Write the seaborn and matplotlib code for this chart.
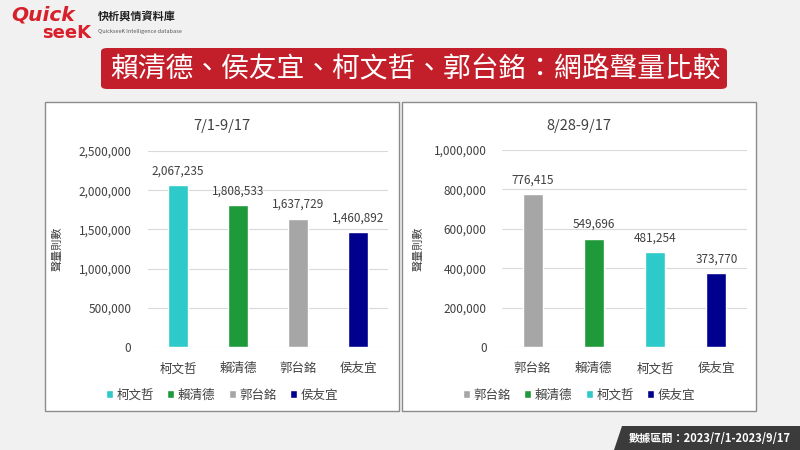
import matplotlib
matplotlib.use("Agg")
import matplotlib.pyplot as plt
from matplotlib.patches import FancyBboxPatch, Rectangle, Polygon
import seaborn as sns
import pandas as pd

# ---- data ----
left_title = "7/1-9/17"
left_cats = ["柯文哲", "賴清德", "郭台銘", "侯友宜"]
left_vals = [2067235, 1808533, 1637729, 1460892]
left_ticks = [0, 500000, 1000000, 1500000, 2000000, 2500000]

right_title = "8/28-9/17"
right_cats = ["郭台銘", "賴清德", "柯文哲", "侯友宜"]
right_vals = [776415, 549696, 481254, 373770]
right_ticks = [0, 200000, 400000, 600000, 800000, 1000000]

colors = {"柯文哲": "#2ec9c9", "賴清德": "#1f9a3a", "郭台銘": "#a6a6a6", "侯友宜": "#00008f"}

main_title = "賴清德、侯友宜、柯文哲、郭台銘：網路聲量比較"
ylabel = "聲量則數"
footer = "數據區間：2023/7/1-2023/9/17"

sns.set_theme(style="white")
plt.rcParams["font.family"] = ["Noto Sans CJK TC", "DejaVu Sans"]

W, H = 800, 450
fig = plt.figure(figsize=(8, 4.5), dpi=100)
fig.patch.set_facecolor("#f1f1f1")

def fx(px):
    return px / W

def fy(py):
    return 1 - py / H

# panels
for x0, x1 in [(45, 399), (402, 756)]:
    fig.patches.append(Rectangle((fx(x0), fy(411)), fx(x1 - x0), (411 - 102) / H,
                                 transform=fig.transFigure, facecolor="white",
                                 edgecolor="#8c8c8c", linewidth=1.0, zorder=0))

# title banner
fig.patches.append(FancyBboxPatch((fx(101), fy(89)), fx(727 - 101), (89 - 48) / H,
                                  boxstyle="round,pad=0,rounding_size=0.008",
                                  transform=fig.transFigure, facecolor="#c21f2b",
                                  edgecolor="none", zorder=1))
fig.text(fx(415), fy(69), main_title, color="white", fontsize=20,
         ha="center", va="center", zorder=2)

# logo
fig.text(fx(11), fy(15), "Quick", color="#d7202b", fontsize=14.5, fontweight="bold",
         style="italic", family="DejaVu Sans", ha="left", va="center")
fig.text(fx(42), fy(33), "seeK", color="#d7202b", fontsize=13, fontweight="bold",
         family="DejaVu Sans", ha="left", va="center")
fig.text(fx(98), fy(17), "快析輿情資料庫", color="#222222", fontsize=8,
         fontweight="bold", ha="left", va="center")
fig.text(fx(98), fy(31), "QuickseeK Intelligence database", color="#555555",
         fontsize=4, ha="left", va="center")

# footer
fig.patches.append(Polygon([(fx(614), 0), (fx(622), fy(426)), (1, fy(426)), (1, 0)],
                           closed=True, transform=fig.transFigure,
                           facecolor="#3b3b3b", edgecolor="none"))
fig.text(fx(710), fy(438), footer, color="white", fontsize=8, fontweight="bold",
         ha="center", va="center")


def draw(ax_rect, cats, vals, ticks, title, center_x, label_x, pad):
    ax = fig.add_axes(ax_rect)
    ax.set_zorder(5)
    df = pd.DataFrame({"cat": cats, "val": vals})
    sns.barplot(data=df, x="cat", y="val", hue="cat", palette=colors, width=0.33,
                dodge=False, legend=True, ax=ax, saturation=1)
    ax.set_facecolor("white")
    ax.set_ylim(0, ticks[-1])
    ax.set_xlim(-0.5, 3.5)
    ax.set_yticks(ticks)
    ax.set_yticklabels([f"{t:,}" for t in ticks], fontsize=8.5, color="#404040")
    ax.tick_params(axis="y", pad=pad, length=0)
    ax.tick_params(axis="x", pad=11, length=0, labelsize=9, labelcolor="#404040")
    ax.grid(axis="y", color="#d9d9d9", linewidth=0.8)
    ax.set_axisbelow(True)
    for s in ax.spines.values():
        s.set_visible(False)
    ax.set_xlabel("")
    ax.set_ylabel(ylabel, fontsize=8, color="#404040")
    ax.yaxis.set_label_coords(label_x, 0.5)
    for cont in ax.containers:
        ax.bar_label(cont, labels=[f"{v:,.0f}" for v in cont.datavalues],
                     padding=5.5, fontsize=8.5, color="#404040")
    sns.move_legend(ax, "center", bbox_to_anchor=(center_x, fy(395)),
                    bbox_transform=fig.transFigure,
                    ncol=4, frameon=False, title=None, fontsize=9,
                    handlelength=0.56, handleheight=0.56, handletextpad=0.3,
                    columnspacing=1.05)
    for t in ax.get_legend().get_texts():
        t.set_color("#404040")
    fig.text(center_x, fy(126), title, fontsize=10.5, color="#404040",
             ha="center", va="center")
    return ax


draw([fx(148), fy(347), fx(240), (347 - 151) / H], left_cats, left_vals, left_ticks,
     left_title, fx(222), -0.355, 12)
draw([fx(502), fy(347), fx(245), (347 - 150) / H], right_cats, right_vals, right_ticks,
     right_title, fx(579), -0.32, 11)

fig.savefig("out.png", dpi=100, facecolor=fig.get_facecolor())
